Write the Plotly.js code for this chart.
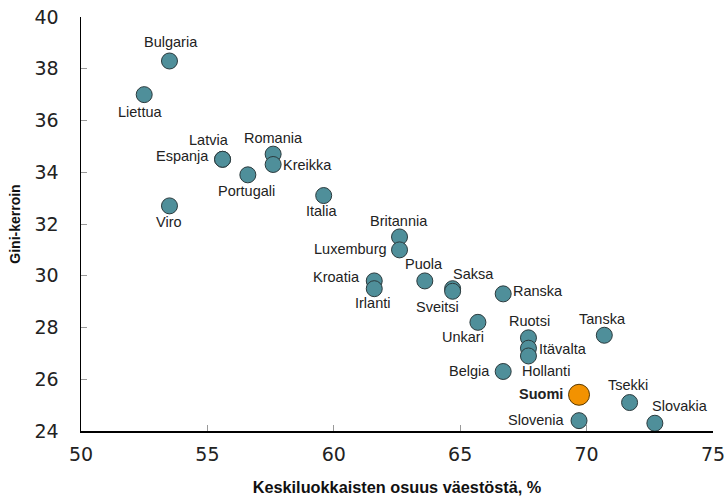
<!DOCTYPE html>
<html>
<head>
<meta charset="utf-8">
<script src="https://cdn.plot.ly/plotly-3.0.1.min.js"></script>
<style>html,body{margin:0;padding:0;background:#fff;}#chart{width:727px;height:496px;}</style>
</head>
<body>
<div id="chart"></div>
<script>
// Data
const countries = ["Bulgaria","Liettua","Latvia","Espanja","Romania","Kreikka","Portugali","Viro","Italia","Britannia","Luxemburg","Kroatia","Irlanti","Puola","Saksa","Sveitsi","Ranska","Unkari","Ruotsi","Itävalta","Hollanti","Tanska","Belgia","Tsekki","Slovenia","Slovakia"];
const middleShare = [53.5,52.5,55.6,55.6,57.6,57.6,56.6,53.5,59.6,62.6,62.6,61.6,61.6,63.6,64.7,64.7,66.7,65.7,67.7,67.7,67.7,70.7,66.7,71.7,69.7,72.7];
const gini = [38.3,37.0,34.5,34.5,34.7,34.3,33.9,32.7,33.1,31.5,31.0,29.8,29.5,29.8,29.5,29.4,29.3,28.2,27.6,27.2,26.9,27.7,26.3,25.1,24.4,24.3];
const finlandName = "Suomi";
const finlandShare = [69.7];
const finlandGini = [25.4];
const xTickVals = [50,55,60,65,70,75];
const yTickVals = [24,26,28,30,32,34,36,38,40];

// Label placement (style): [anchor, dx, dy] in px relative to marker
const labelStyle = {
  "Bulgaria":["center",2,-19], "Liettua":["center",-4,17], "Latvia":["center",-14,-19],
  "Espanja":["right",-14,-3], "Romania":["center",0,-16], "Kreikka":["left",10,1],
  "Portugali":["center",-1,16], "Viro":["center",0,16], "Italia":["center",-2,15],
  "Britannia":["center",-1,-16], "Luxemburg":["right",-13,-1], "Kroatia":["right",-14,-4],
  "Irlanti":["center",-2,14], "Puola":["center",-1,-17], "Saksa":["left",0,-15],
  "Sveitsi":["center",-15,16], "Ranska":["left",10,-3], "Unkari":["center",-15,15],
  "Ruotsi":["center",1,-17], "Itävalta":["left",11,1], "Hollanti":["center",18,15],
  "Tanska":["center",-2,-16], "Belgia":["right",-13,0], "Tsekki":["center",-2,-18],
  "Slovenia":["right",-14,-1], "Slovakia":["center",25,-17], "Suomi":["right",-16,-1]
};

function mkAnn(name, x, y, bold) {
  const s = labelStyle[name];
  let dx = s[1];
  if (s[0] === "right") dx += 2;
  if (s[0] === "left") dx -= 2;
  return {
    x: x, y: y, xref: "x", yref: "y", text: bold ? "<b>" + name + "</b>" : name,
    showarrow: false, xanchor: s[0], yanchor: "middle", xshift: dx, yshift: -s[2],
    font: {family: "Liberation Sans, Arial, sans-serif", size: 14.5, color: "#222"}
  };
}

const annotations = countries.map((c, i) => mkAnn(c, middleShare[i], gini[i], false));
annotations.push(mkAnn(finlandName, finlandShare[0], finlandGini[0], true));

const traces = [
  {
    type: "scatter", mode: "markers", x: middleShare, y: gini, text: countries,
    cliponaxis: false, hoverinfo: "text",
    marker: {size: 16, color: "#4F8F9A", line: {color: "#2b3a3d", width: 1}}
  },
  {
    type: "scatter", mode: "markers", x: finlandShare, y: finlandGini, text: [finlandName],
    cliponaxis: false, hoverinfo: "text",
    marker: {size: 21, color: "#F39200", line: {color: "#5a3a00", width: 1}}
  }
];

const layout = {
  width: 727, height: 496,
  margin: {l: 81, r: 14, t: 17, b: 65, pad: 0},
  paper_bgcolor: "#fff", plot_bgcolor: "#fff",
  showlegend: false,
  font: {family: "DejaVu Sans, sans-serif", color: "#222"},
  xaxis: {
    range: [50, 75], tickvals: xTickVals, ticktext: xTickVals.map(String),
    ticks: "inside", ticklen: 6, tickcolor: "#999", tickwidth: 1,
    showline: true, linecolor: "#000", linewidth: 1.5,
    showgrid: false, zeroline: false, ticklabelstandoff: 6,
    tickfont: {family: "DejaVu Sans, sans-serif", size: 19, color: "#222"},
    title: {text: "<b>Keskiluokkaisten osuus väestöstä, %</b>", standoff: 18,
      font: {family: "Liberation Sans, Arial, sans-serif", size: 16.3, color: "#111"}}
  },
  yaxis: {
    range: [24, 40], tickvals: yTickVals, ticktext: yTickVals.map(String),
    ticks: "inside", ticklen: 6, tickcolor: "#999", tickwidth: 1,
    showline: true, linecolor: "#000", linewidth: 1.5,
    showgrid: false, zeroline: false, ticklabelstandoff: 17,
    tickfont: {family: "DejaVu Sans, sans-serif", size: 19, color: "#222"},
    title: {text: "<b>Gini-kerroin</b>", standoff: 10,
      font: {family: "Liberation Sans, Arial, sans-serif", size: 14, color: "#111"}}
  },
  annotations: annotations
};

Plotly.newPlot("chart", traces, layout, {displayModeBar: false, staticPlot: true});
</script>
</body>
</html>
